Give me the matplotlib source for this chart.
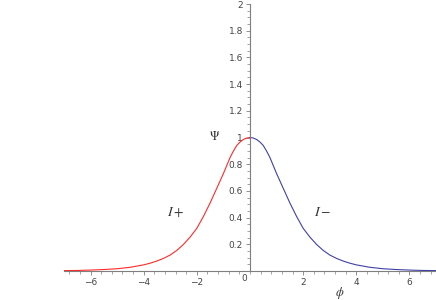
## imports
import numpy as np
import matplotlib.pyplot as plt
from matplotlib.ticker import MultipleLocator

## data
# right branch (I-), phi >= 0
phi_right = [0.0, 0.125, 0.25, 0.375, 0.5, 0.625, 0.75, 0.875, 1.0, 1.125, 1.25, 1.375,
             1.5, 1.625, 1.75, 1.875, 2.0, 2.25, 2.5, 2.75,
             3.0, 3.25, 3.5, 3.75, 4.0, 4.5, 5.0, 5.5, 6.0, 6.5, 7.0]
psi_right = [1.0, 0.996, 0.985, 0.966, 0.94, 0.898, 0.85, 0.79, 0.73, 0.675, 0.62, 0.565,
             0.51, 0.46, 0.41, 0.365, 0.32, 0.255, 0.20, 0.155,
             0.12, 0.095, 0.075, 0.059, 0.046, 0.028, 0.017, 0.011, 0.007, 0.004, 0.003]
# left branch (I+), phi <= 0
phi_left = [-7.0, -6.5, -6.0, -5.5, -5.0, -4.5, -4.0, -3.75, -3.5, -3.25, -3.0, -2.75,
            -2.5, -2.25, -2.0, -1.875, -1.75, -1.625, -1.5, -1.375, -1.25, -1.125,
            -1.0, -0.875, -0.75, -0.625, -0.5, -0.375, -0.25, -0.125, 0.0]
psi_left = [0.003, 0.004, 0.007, 0.011, 0.017, 0.028, 0.046, 0.059, 0.075, 0.095, 0.12, 0.155,
            0.20, 0.255, 0.32, 0.365, 0.41, 0.46, 0.51, 0.565, 0.62, 0.675,
            0.73, 0.79, 0.85, 0.898, 0.94, 0.966, 0.985, 0.996, 1.0]

x_ticks = [-6, -4, -2, 2, 4, 6]
y_ticks = [0.2, 0.4, 0.6, 0.8, 1.0, 1.2, 1.4, 1.6, 1.8, 2.0]
y_labels = ['0.2', '0.4', '0.6', '0.8', '1', '1.2', '1.4', '1.6', '1.8', '2']

## plotting
plt.rcParams['mathtext.fontset'] = 'stix'
fig = plt.figure(figsize=(4.36, 3.0), dpi=100)
ax = fig.add_axes([64 / 436, 29 / 300, 372 / 436, 267 / 300])

ax.plot(phi_left, psi_left, color='#ff2a2a', lw=0.8)
ax.plot(phi_right, psi_right, color='#4040a8', lw=0.8)

ax.set_xlim(-7, 7)
ax.set_ylim(0, 2)

# maple style axes crossing at the origin
axis_col = '#7f7f7f'
ax.spines['left'].set_position(('data', 0))
ax.spines['bottom'].set_position(('data', 0))
ax.spines['top'].set_visible(False)
ax.spines['right'].set_visible(False)
for s in ['left', 'bottom']:
    ax.spines[s].set_color(axis_col)
    ax.spines[s].set_linewidth(0.8)

ax.set_xticks(x_ticks)
ax.set_xticklabels(['\u2212' + str(-t) if t < 0 else str(t) for t in x_ticks])
ax.set_yticks(y_ticks)
ax.set_yticklabels(y_labels)
ax.xaxis.set_minor_locator(MultipleLocator(0.4))
ax.yaxis.set_minor_locator(MultipleLocator(0.05))
ax.tick_params(which='major', length=3, width=0.6, color=axis_col,
               labelsize=6.5, labelcolor='#444444', pad=2)
ax.tick_params(which='minor', length=2, width=0.5, color=axis_col)

# the "0" label sits left of the vertical axis
ax.text(-0.22, -0.025, '0', ha='center', va='top', fontsize=6.5, color='#444444')

# axis names and branch labels
ax.text(-1.32, 1.01, r'$\Psi$', ha='center', va='center', fontsize=9, color='#333333')
ax.text(3.38, -0.165, r'$\phi$', ha='center', va='center', fontsize=9, color='#333333', clip_on=False)
ax.text(-2.78, 0.44, r'$I+$', ha='center', va='center', fontsize=10, color='#333333')
ax.text(2.74, 0.44, r'$I-$', ha='center', va='center', fontsize=10, color='#333333')

fig.savefig('out.png', dpi=100)
